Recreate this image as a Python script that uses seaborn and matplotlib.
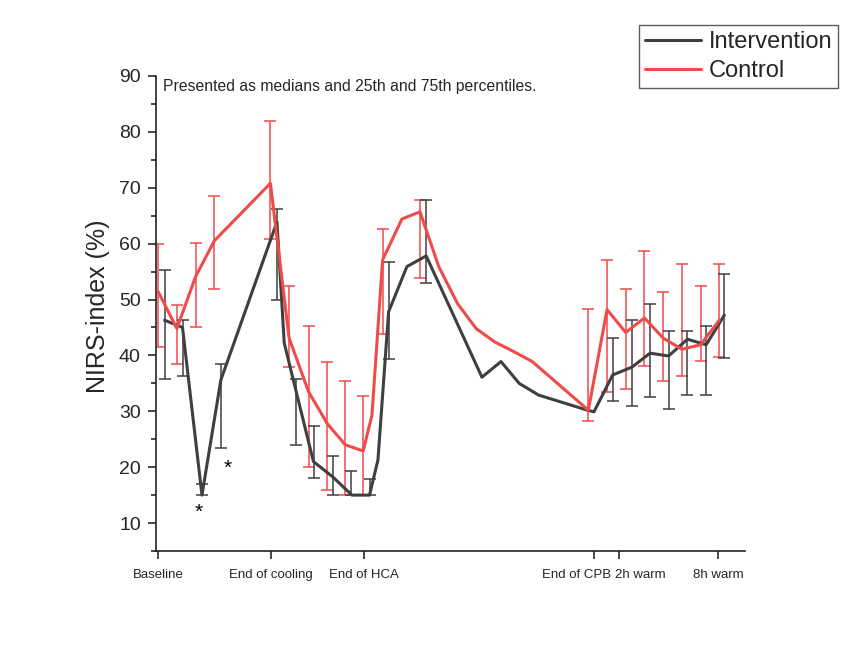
import numpy as np
import pandas as pd
import matplotlib
matplotlib.use("Agg")
import matplotlib.pyplot as plt
import matplotlib.transforms as mtransforms
import seaborn as sns

# x is a time position (one step ~ one measurement)
ctrl_x = [0.0, 1.0, 2.0, 3.0, 6.0, 7.0, 8.04, 9.04, 10.0, 10.96, 11.43, 12.0, 13.03, 14.0,
          15.0, 16.0, 17.0, 18.0, 19.0, 20.0, 23.0, 24.0, 25.0, 26.0, 27.0, 28.0, 29.0, 30.0]
ctrl_med = [51.4, 44.8, 54.1, 60.5, 70.8, 43.1, 33.5, 27.8, 24.0, 22.9, 29.3, 57.1, 64.4, 65.7,
            55.9, 49.3, 44.8, 42.4, 40.7, 38.9, 30.2, 48.2, 44.1, 46.7, 43.1, 41.1, 41.9, 46.3]

ctrl_err_x = [0.0, 1.0, 2.0, 3.0, 6.0, 7.0, 8.04, 9.04, 10.0, 10.96, 12.0, 14.0,
              23.0, 24.0, 25.0, 26.0, 27.0, 28.0, 29.0, 30.0]
ctrl_q1 = [41.5, 38.4, 45.1, 51.9, 60.8, 38.0, 20.0, 15.9, 15.0, 15.0, 43.9, 53.9,
           28.2, 33.4, 34.0, 38.1, 35.4, 36.4, 39.0, 39.7]
ctrl_q3 = [60.0, 49.0, 60.2, 68.6, 82.0, 52.4, 45.3, 38.9, 35.4, 32.7, 62.7, 67.8,
           48.3, 57.1, 51.8, 58.6, 51.3, 56.4, 52.4, 56.4]

int_x = [0.34, 1.3, 2.34, 3.35, 6.35, 6.74, 8.3, 9.32, 10.36, 11.3, 11.75, 12.32, 13.3, 14.33,
         17.31, 18.33, 19.3, 20.34, 22.95, 23.3, 24.3, 25.33, 26.3, 27.29, 28.3, 29.3, 30.27]
int_med = [46.3, 45.0, 15.0, 35.6, 63.9, 42.2, 21.0, 18.3, 15.0, 15.0, 21.3, 47.8, 55.9, 57.8,
           36.1, 38.9, 35.0, 32.9, 30.2, 29.9, 36.5, 37.9, 40.4, 39.9, 42.9, 41.9, 47.2]

int_err_x = [0.34, 1.3, 2.34, 3.35, 6.35, 7.35, 8.33, 9.33, 10.33, 11.3, 12.35, 14.33,
             24.3, 25.33, 26.3, 27.3, 28.3, 29.3, 30.27]
int_q1 = [35.7, 36.4, 15.0, 23.5, 49.9, 24.0, 18.0, 15.0, 15.0, 15.0, 39.4, 52.9,
          31.9, 30.9, 32.5, 30.4, 32.9, 32.9, 39.5]
int_q3 = [55.3, 46.3, 16.9, 38.4, 66.2, 35.8, 27.4, 22.0, 19.4, 17.8, 56.8, 67.8,
          43.1, 46.3, 49.2, 44.4, 44.4, 45.3, 54.6]

tick_pos = [0.0, 6.05, 11.0, 23.3, 24.64, 29.95]
tick_labels = ["Baseline", "End of cooling", "End of HCA", "End of CPB", "2h warm", "8h warm"]

star_x = [2.19, 3.71]
star_y = [12.0, 19.8]

sns.set_style("ticks")
plt.rcParams["font.family"] = ["Liberation Sans", "DejaVu Sans"]

dark = "#3f3f3f"
red = "#ef4b4b"

lines = pd.concat([
    pd.DataFrame({"x": int_x, "y": int_med, "group": "Intervention"}),
    pd.DataFrame({"x": ctrl_x, "y": ctrl_med, "group": "Control"}),
])

fig = plt.figure(figsize=(8.44, 6.54), dpi=100)
ax = fig.add_axes([0.185, 0.1575, 0.698, 0.7263])


def iqr_bars(xs, q1, q3, color):
    mid = [(a + b) / 2 for a, b in zip(q1, q3)]
    yerr = [[m - a for m, a in zip(mid, q1)], [b - m for m, b in zip(mid, q3)]]
    ax.errorbar(xs, mid, yerr=yerr, fmt="none", ecolor=color, elinewidth=1.3,
                capsize=4, capthick=1.3, alpha=0.85, zorder=2)


iqr_bars(ctrl_err_x, ctrl_q1, ctrl_q3, red)
iqr_bars(int_err_x, int_q1, int_q3, dark)

sns.lineplot(data=lines, x="x", y="y", hue="group", sort=False, estimator=None,
             palette={"Intervention": dark, "Control": red}, linewidth=2.2, ax=ax, zorder=3)

for sx, sy in zip(star_x, star_y):
    ax.text(sx, sy, "*", ha="center", va="center", fontsize=15, color="black")

ax.text(0.012, 0.977, "Presented as medians and 25th and 75th percentiles.",
        transform=ax.transAxes, ha="left", va="center", fontsize=11.3)

ax.set_xlim(-0.11, 31.39)
ax.set_ylim(5, 90)
ax.set_yticks(np.arange(10, 91, 10))
ax.set_yticks(np.arange(5, 91, 5), minor=True)
ax.set_xticks(tick_pos)
ax.set_xticklabels(tick_labels, fontsize=9.5)
ax.tick_params(axis="y", labelsize=14, length=6, width=1.2, direction="out", pad=5)
ax.tick_params(axis="y", which="minor", length=3.5, width=1.2)
ax.tick_params(axis="x", length=6, width=1.2, pad=7)
ax.set_xlabel("")
ax.set_ylabel("NIRS-index (%)", fontsize=18)
ax.yaxis.set_label_coords(-0.078, 0.516)
for s in ["left", "bottom"]:
    ax.spines[s].set_linewidth(1.2)
    ax.spines[s].set_color("#222222")
sns.despine(ax=ax)

# nudge the two crowded labels apart, as in the original
xlabs = ax.get_xticklabels()
xlabs[3].set_ha("right")
xlabs[3].set_transform(xlabs[3].get_transform() +
                       mtransforms.ScaledTranslation(17 / 100, 0, fig.dpi_scale_trans))
xlabs[4].set_ha("left")
xlabs[4].set_transform(xlabs[4].get_transform() +
                       mtransforms.ScaledTranslation(-4 / 100, 0, fig.dpi_scale_trans))

handles, labels = ax.get_legend_handles_labels()
ax.get_legend().remove()
leg = fig.legend(handles, labels, loc="upper right", bbox_to_anchor=(838 / 844, 1 - 25 / 654),
                 fontsize=17, frameon=True, fancybox=False, handlelength=2.4,
                 borderpad=0.25, labelspacing=0.3, handletextpad=0.3, borderaxespad=0)
leg.get_frame().set_edgecolor("#333333")
leg.get_frame().set_linewidth(1.0)

fig.savefig("out.png", dpi=100, facecolor="white")
